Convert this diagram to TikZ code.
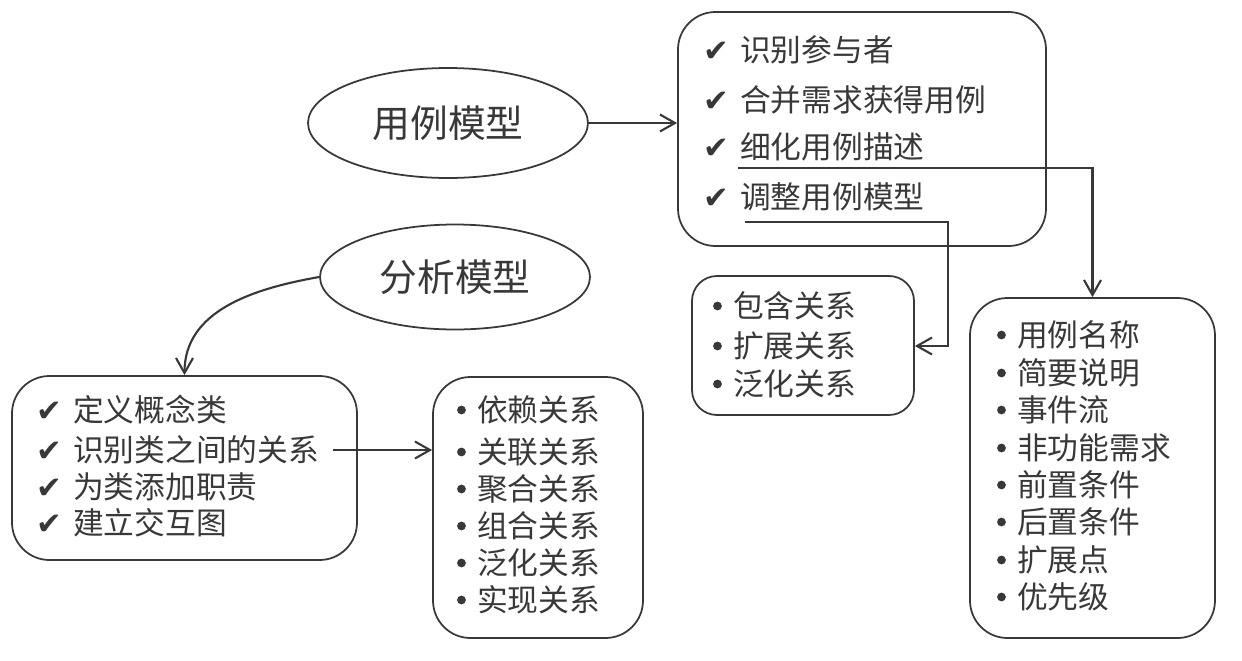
\documentclass[tikz,border=0pt]{standalone}
\usepackage{fontspec}
\setmainfont{Noto Sans CJK SC}
\newfontfamily\symfont{DejaVu Sans}
\usepackage{tikz}
\usetikzlibrary{arrows.meta, fit, shapes.geometric, calc}
\definecolor{inkgray}{HTML}{383838}
\tikzset{
	box/.style={draw=inkgray, line width=1pt, rounded corners=0.75cm, inner sep=0pt}
}
\tikzset{
	model/.style={draw=inkgray, line width=1pt, ellipse, inner sep=0pt, font=\fontsize{21.5}{24}\selectfont\color{inkgray}}
}
\tikzset{
	item/.style={anchor=west, inner sep=1pt, font=\fontsize{17.5}{20}\selectfont\color{inkgray}}
}
\tikzset{
	checkitem/.style={item, label={[font=\fontsize{17.5}{18}\symfont\color{inkgray}, inner sep=0pt, label distance=5pt, yshift=-1pt]left:✔}}
}
\tikzset{
	dotitem/.style={item, label={[circle, fill=inkgray, inner sep=0pt, minimum size=5pt, label distance=5pt]left:{}}}
}
\tikzset{
	link/.style={draw=inkgray, line width=1.2pt, -{Straight Barb[length=3mm, width=3.4mm]}}
}

\begin{document}
\begin{tikzpicture}[x=0.02cm, y=-0.02cm]
      \useasboundingbox (0,0) rectangle (1242,660);
      % the two models
      \node[model, minimum width=5.6cm, minimum height=2.2cm] (e1) at (448,123) {用例模型};
      \node[model, minimum width=5.4cm, minimum height=2.1cm] (e2) at (455,277) {分析模型};
      % boxes
      \node[box, fit={(678,12) (1046,246)}] (b1) {};
      \node[box, rounded corners=0.5cm, fit={(692,276) (914,415)}] (b2) {};
      \node[box, fit={(970,298) (1215,638)}] (b3) {};
      \node[box, fit={(12,376) (357,560)}] (b4) {};
      \node[box, fit={(433,377) (643,638)}] (b5) {};
      % use case steps
      \node[checkitem] (r1) at (738,50) {识别参与者};
      \node[checkitem] (r2) at (738,100) {合并需求获得用例};
      \node[checkitem] (r3) at (738,147) {细化用例描述};
      \node[checkitem] (r4) at (738,197) {调整用例模型};
      % relations between use cases
      \node[dotitem] (q1) at (731,306) {包含关系};
      \node[dotitem] (q2) at (731,346) {扩展关系};
      \node[dotitem] (q3) at (731,384) {泛化关系};
      % use case description
      \node[dotitem] (d1) at (1015,335) {用例名称};
      \node[dotitem] (d2) at (1015,373) {简要说明};
      \node[dotitem] (d3) at (1015,410) {事件流};
      \node[dotitem] (d4) at (1015,448) {非功能需求};
      \node[dotitem] (d5) at (1015,485) {前置条件};
      \node[dotitem] (d6) at (1015,522) {后置条件};
      \node[dotitem] (d7) at (1015,560) {扩展点};
      \node[dotitem] (d8) at (1015,597) {优先级};
      % analysis steps
      \node[checkitem] (p1) at (71,410) {定义概念类};
      \node[checkitem] (p2) at (71,450) {识别类之间的关系};
      \node[checkitem] (p3) at (71,487) {为类添加职责};
      \node[checkitem] (p4) at (71,523) {建立交互图};
      % relations between classes
      \node[dotitem] (c1) at (475,410) {依赖关系};
      \node[dotitem] (c2) at (475,452) {关联关系};
      \node[dotitem] (c3) at (475,489) {聚合关系};
      \node[dotitem] (c4) at (475,526) {组合关系};
      \node[dotitem] (c5) at (475,563) {泛化关系};
      \node[dotitem] (c6) at (475,600) {实现关系};
      % connectors
      \coordinate (turn) at (948,0);
      \draw[link] (e1.east) -- (e1.east -| b1.west);
      \draw[link] ([yshift=-2.5pt]r3.south west) -| (b3.north);
      \draw[link] ([xshift=4pt, yshift=-5pt]r4.south west) -- ([yshift=-5pt]r4.south west -| turn) |- (q2 -| b2.east);
      \draw[link] (e2.west) to[out=190, in=90] (b4.north);
      \draw[link] ([xshift=7pt]p2.east) -- (p2 -| b5.west);
    \end{tikzpicture}
\end{document}
